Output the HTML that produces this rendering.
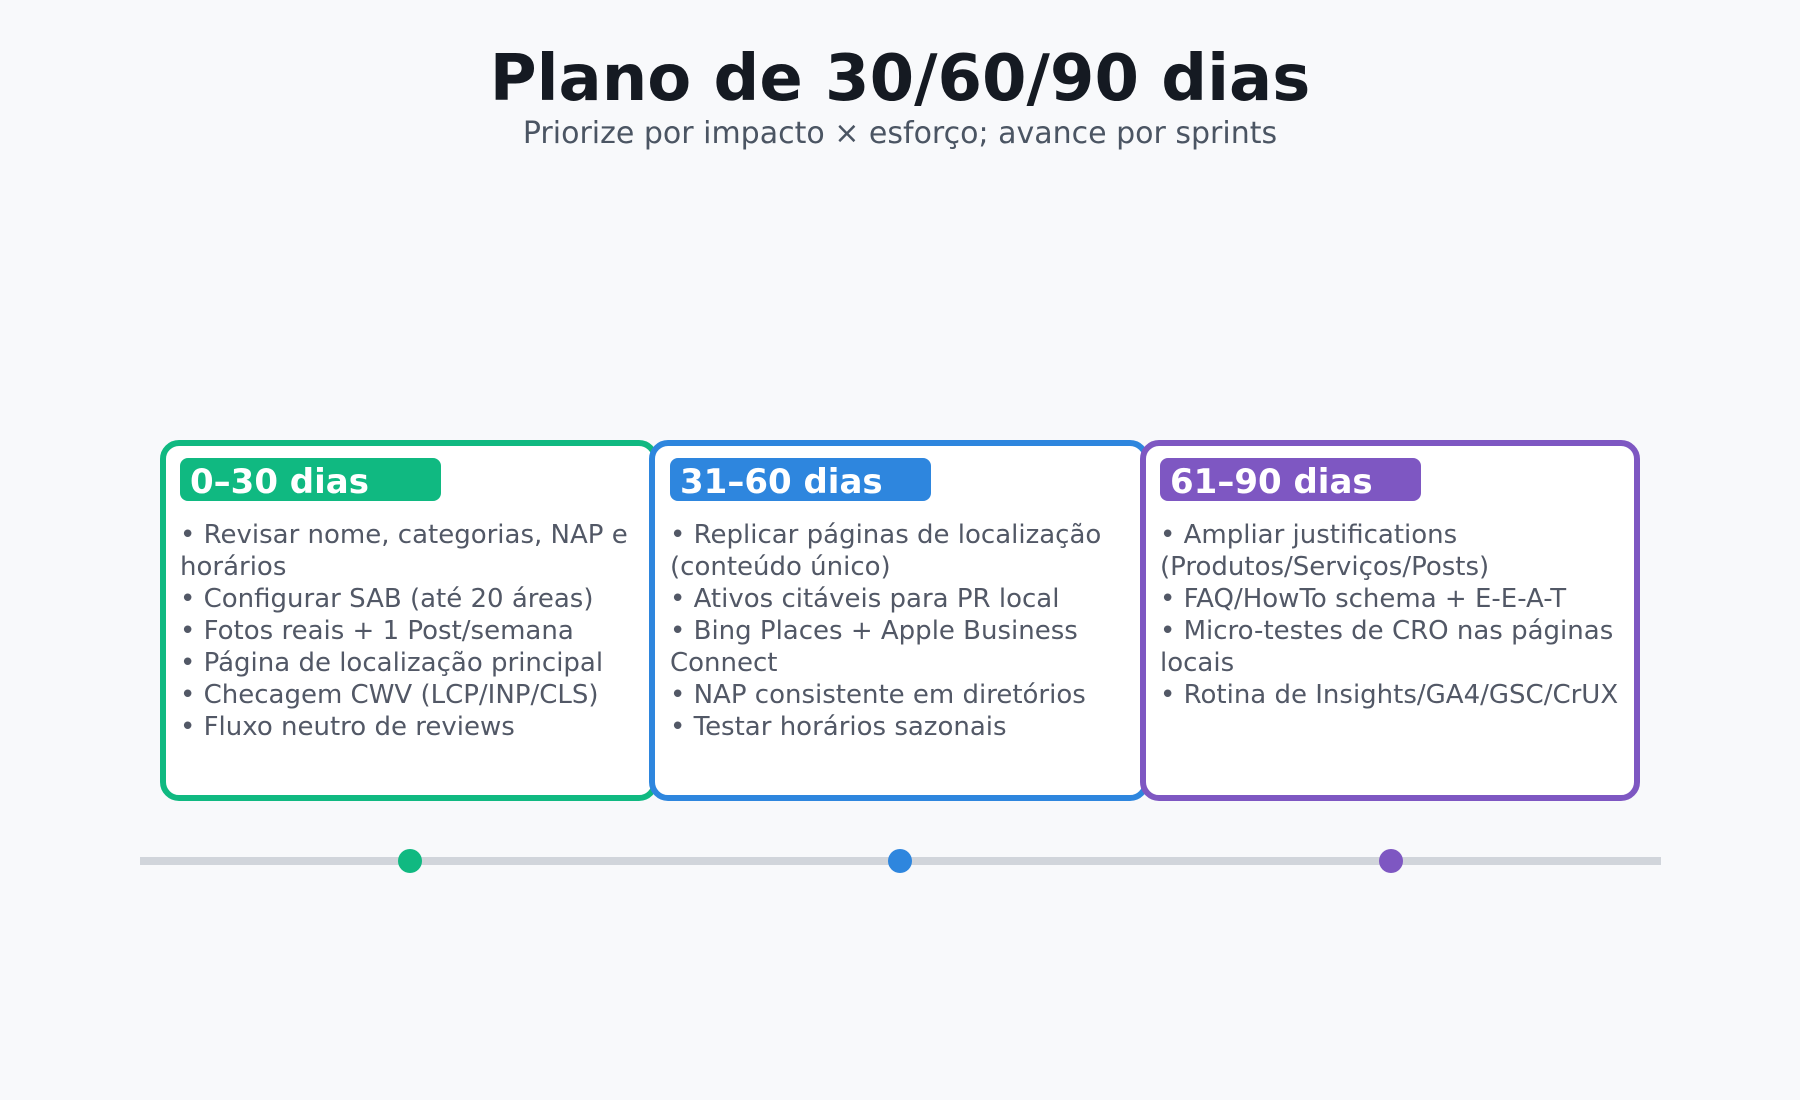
<!DOCTYPE html>
<html><head><meta charset="utf-8"><style>
html,body{margin:0;padding:0;background:#f8f9fb;}
svg{display:block;}
</style></head><body>
<svg width="1800" height="1100" viewBox="0 0 1800 1100" xmlns="http://www.w3.org/2000/svg" font-family="'DejaVu Sans','Liberation Sans',sans-serif">
<rect width="1800" height="1100" fill="#f8f9fb"/>
<text x="900" y="100" text-anchor="middle" font-size="64" font-weight="bold" fill="#151a22">Plano de 30/60/90 dias</text>
<text x="900" y="143" text-anchor="middle" font-size="30" fill="#4b5563">Priorize por impacto × esforço; avance por sprints</text>

<rect x="163" y="443" width="492" height="355" rx="16" fill="#fff" stroke="#10b981" stroke-width="6"/>
<rect x="652" y="443" width="494" height="355" rx="16" fill="#fff" stroke="#2e86de" stroke-width="6"/>
<rect x="1143" y="443" width="494" height="355" rx="16" fill="#fff" stroke="#7e57c2" stroke-width="6"/>

<rect x="180" y="458" width="261" height="43" rx="8" fill="#10b981"/>
<rect x="670" y="458" width="261" height="43" rx="8" fill="#2e86de"/>
<rect x="1160" y="458" width="261" height="43" rx="8" fill="#7e57c2"/>
<g font-size="34" font-weight="bold" fill="#fff">
<text x="190" y="493">0–30 dias</text>
<text x="680" y="493">31–60 dias</text>
<text x="1170" y="493">61–90 dias</text>
</g>
<g font-size="26" fill="#525866">
<text x="180" y="543">• Revisar nome, categorias, NAP e</text>
<text x="180" y="575">horários</text>
<text x="180" y="607">• Configurar SAB (até 20 áreas)</text>
<text x="180" y="639">• Fotos reais + 1 Post/semana</text>
<text x="180" y="671">• Página de localização principal</text>
<text x="180" y="703">• Checagem CWV (LCP/INP/CLS)</text>
<text x="180" y="735">• Fluxo neutro de reviews</text>

<text x="670" y="543">• Replicar páginas de localização</text>
<text x="670" y="575">(conteúdo único)</text>
<text x="670" y="607">• Ativos citáveis para PR local</text>
<text x="670" y="639">• Bing Places + Apple Business</text>
<text x="670" y="671">Connect</text>
<text x="670" y="703">• NAP consistente em diretórios</text>
<text x="670" y="735">• Testar horários sazonais</text>

<text x="1160" y="543">• Ampliar justifications</text>
<text x="1160" y="575">(Produtos/Serviços/Posts)</text>
<text x="1160" y="607">• FAQ/HowTo schema + E-E-A-T</text>
<text x="1160" y="639">• Micro-testes de CRO nas páginas</text>
<text x="1160" y="671">locais</text>
<text x="1160" y="703">• Rotina de Insights/GA4/GSC/CrUX</text>
</g>

<rect x="140" y="857" width="1521" height="8" fill="#d1d5db"/>
<circle cx="410" cy="861" r="12" fill="#10b981"/>
<circle cx="900" cy="861" r="12" fill="#2e86de"/>
<circle cx="1391" cy="861" r="12" fill="#7e57c2"/>
</svg>
</body></html>
